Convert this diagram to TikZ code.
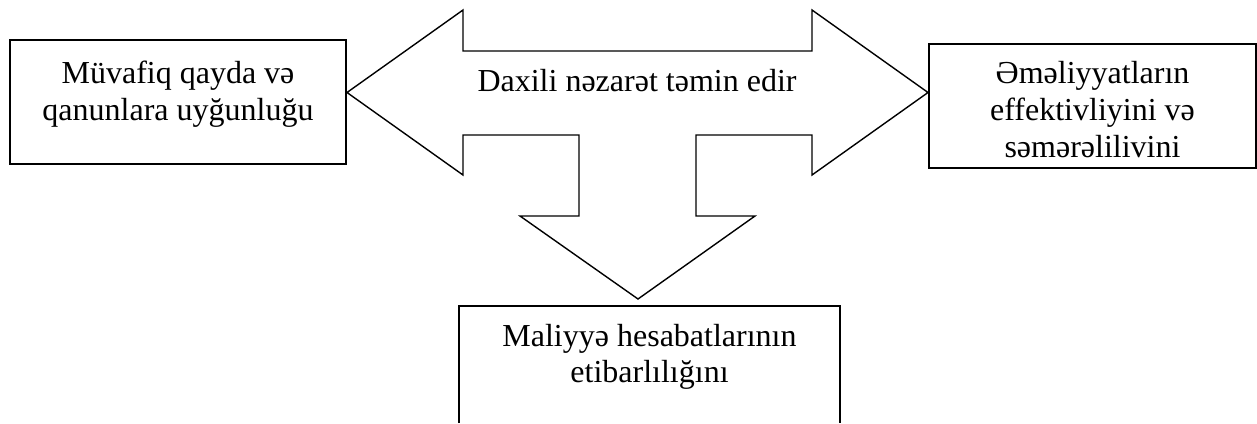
\documentclass[tikz,border=0pt]{standalone}
\usepackage{fontspec}
\setmainfont{Liberation Serif}
\begin{document}
\begin{tikzpicture}[x=1pt,y=-1pt,
  box/.style={draw,line width=1.4pt,minimum width=#1,inner sep=0pt},
  lbl/.style={anchor=base,inner sep=0pt,font=\fontsize{32}{39}\selectfont},
  arrowshape/.style={draw,line width=1.4pt,line join=miter}]
\useasboundingbox (0,0) rectangle (1257,423);
% boxes
\node[box=336pt,minimum height=124pt] (lbox) at (178,102) {};
\node[box=327pt,minimum height=124pt] (rbox) at (1092.5,106) {};
\coordinate (bl) at (459,423);
\coordinate (br) at (840,423);
\coordinate (btl) at (459,306);
\coordinate (btr) at (840,306);
\draw[line width=1.4pt] (bl) -- (btl) -- (btr) -- (br);
% texts
\node[lbl] (l1) at (178,83) {Müvafiq qayda və};
\node[lbl] (l2) at (178,120) {qanunlara uyğunluğu};
\node[lbl] (r1) at (1092.5,83) {Əməliyyatların};
\node[lbl] (r2) at (1092.5,120) {effektivliyini və};
\node[lbl] (r3) at (1092.5,157) {səmərəlilivini};
\node[lbl] (b1) at (649.5,346) {Maliyyə hesabatlarının};
\node[lbl] (b2) at (649.5,382) {etibarlılığını};
\node[lbl] (c) at (637,91) {Daxili nəzarət təmin edir};
% three-way arrow
\coordinate (tipL) at (347,92.5);
\coordinate (tipR) at (928,92.5);
\coordinate (tipD) at (638,299);
\draw[arrowshape] (tipL) -- (463,10) -- (463,51) -- (812,51) -- (812,10) -- (tipR)
  -- (812,175) -- (812,135) -- (696,135) -- (696,216) -- (755,216) -- (tipD)
  -- (520,216) -- (579,216) -- (579,135) -- (463,135) -- (463,175) -- cycle;
\end{tikzpicture}
\end{document}
